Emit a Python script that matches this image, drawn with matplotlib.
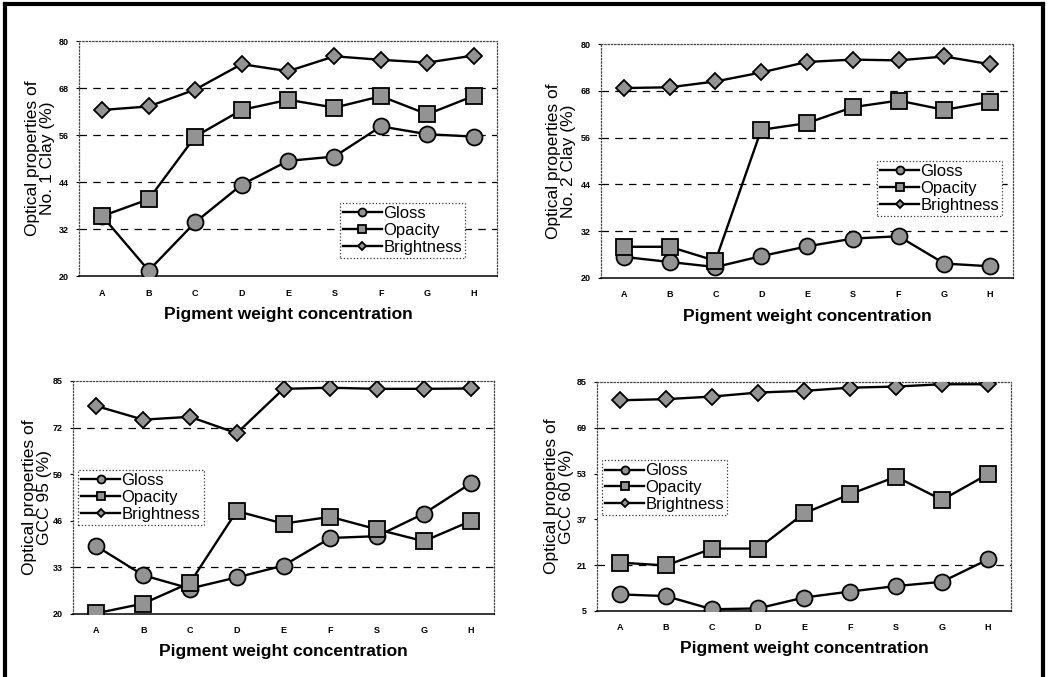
import matplotlib.pyplot as plt

plt.rcParams['font.family'] = ['Liberation Sans', 'DejaVu Sans']

# categories on the x axis (order differs between the top and bottom panels)
cats_top = ['A', 'B', 'C', 'D', 'E', 'S', 'F', 'G', 'H']
cats_bottom = ['A', 'B', 'C', 'D', 'E', 'F', 'S', 'G', 'H']

# No. 1 Clay
clay1_gloss = [35.3, 21.4, 33.7, 43.3, 49.4, 50.5, 58.2, 56.2, 55.6]
clay1_opacity = [35.3, 39.6, 55.6, 62.4, 65.0, 63.0, 65.9, 61.3, 66.0]
clay1_bright = [62.4, 63.3, 67.6, 74.1, 72.3, 76.1, 75.2, 74.5, 76.3]

# No. 2 Clay
clay2_gloss = [25.4, 24.1, 22.8, 25.6, 28.1, 30.1, 30.7, 23.7, 23.0]
clay2_opacity = [28.0, 28.0, 24.4, 58.0, 59.7, 63.8, 65.5, 63.1, 65.2]
clay2_bright = [68.7, 68.9, 70.4, 72.7, 75.4, 76.0, 75.8, 76.8, 74.8]

# GCC 95
gcc95_gloss = [38.9, 30.8, 27.1, 30.2, 33.5, 41.2, 41.7, 48.0, 56.4]
gcc95_opacity = [20.2, 22.9, 28.7, 48.7, 45.2, 47.1, 43.6, 40.3, 45.9]
gcc95_bright = [78.0, 74.2, 75.0, 70.4, 82.8, 83.1, 82.8, 82.8, 82.9]

# GCC 60
gcc60_gloss = [10.8, 10.2, 5.6, 5.9, 9.7, 11.8, 13.7, 15.2, 23.0]
gcc60_opacity = [21.9, 20.9, 26.8, 26.8, 39.1, 45.8, 51.9, 43.8, 52.8]
gcc60_bright = [78.6, 79.0, 79.9, 81.3, 81.9, 83.0, 83.4, 84.2, 84.2]

panels = [
    dict(rect=[0.0754, 0.5923, 0.3989, 0.3471], cats=cats_top,
         gloss=clay1_gloss, opacity=clay1_opacity, bright=clay1_bright,
         yticks=[20, 32, 44, 56, 68, 80], grid=[32, 44, 56, 68],
         ylabel='Optical properties of\nNo. 1 Clay (%)',
         ylab_x=-0.093, xlab_y=-0.132, leg=(0.624, 0.311)),
    dict(rect=[0.5735, 0.5894, 0.3931, 0.3456], cats=cats_top,
         gloss=clay2_gloss, opacity=clay2_opacity, bright=clay2_bright,
         yticks=[20, 32, 44, 56, 68, 80], grid=[32, 44, 56, 68],
         ylabel='Optical properties of\nNo. 2 Clay (%)',
         ylab_x=-0.097, xlab_y=-0.132, leg=(0.670, 0.50)),
    dict(rect=[0.0697, 0.0931, 0.4017, 0.3442], cats=cats_bottom,
         gloss=gcc95_gloss, opacity=gcc95_opacity, bright=gcc95_bright,
         yticks=[20, 33, 46, 59, 72, 85], grid=[33, 72],
         ylabel='Optical properties of\nGCC 95 (%)',
         ylab_x=-0.086, xlab_y=-0.129, leg=(0.012, 0.618)),
    dict(rect=[0.5697, 0.0975, 0.3950, 0.3383], cats=cats_bottom,
         gloss=gcc60_gloss, opacity=gcc60_opacity, bright=gcc60_bright,
         yticks=[5, 21, 37, 53, 69, 85], grid=[21, 69],
         ylabel='Optical properties of\nGCC 60 (%)',
         ylab_x=-0.092, xlab_y=-0.131, leg=(0.012, 0.659)),
]

fill = '#939393'
fig = plt.figure(figsize=(10.48, 6.77), dpi=100)

# outer frame around the whole figure (bottom edge runs off the page)
for xs, ys in [([0.005, 0.005], [-0.01, 0.994]),
               ([0.005, 0.995], [0.994, 0.994]),
               ([0.995, 0.995], [-0.01, 0.994])]:
    fig.add_artist(plt.Line2D(xs, ys, color='black', lw=3,
                              transform=fig.transFigure))

for p in panels:
    ax = fig.add_axes(p['rect'])
    x = range(len(p['cats']))
    for yv in p['grid']:
        ax.axhline(yv, color='black', lw=0.9, ls=(0, (6, 5)), zorder=1)

    ax.plot(x, p['gloss'], '-o', color='black', lw=1.7, ms=11.5,
            mfc=fill, mec='black', mew=1.3, label='Gloss', zorder=3)
    ax.plot(x, p['opacity'], '-s', color='black', lw=1.7, ms=12,
            mfc=fill, mec='black', mew=1.3, label='Opacity', zorder=3)
    ax.plot(x, p['bright'], '-D', color='black', lw=1.7, ms=8.5,
            mfc=fill, mec='black', mew=1.3, label='Brightness', zorder=3)

    ax.set_xlim(-0.5, 8.5)
    ax.set_ylim(p['yticks'][0], p['yticks'][-1])
    ax.set_yticks(p['yticks'])
    ax.set_xticks(list(x))
    ax.set_xticklabels(p['cats'])
    ax.tick_params(axis='x', length=0, pad=9, labelsize=6.5)
    ax.tick_params(axis='y', length=2.5, width=0.8, pad=5, labelsize=6.5)
    for lbl in ax.get_xticklabels() + ax.get_yticklabels():
        lbl.set_fontweight('bold')

    for side in ['top', 'left', 'right']:
        ax.spines[side].set_linestyle(':')
        ax.spines[side].set_linewidth(0.9)
        ax.spines[side].set_color('#444444')
    ax.spines['bottom'].set_linewidth(1.1)

    ax.set_xlabel('Pigment weight concentration', fontsize=12.5,
                  fontweight='bold')
    ax.xaxis.set_label_coords(0.5, p['xlab_y'])
    ax.set_ylabel(p['ylabel'], fontsize=12.5, va='center', linespacing=1.0)
    ax.yaxis.set_label_coords(p['ylab_x'], 0.5)

    leg = ax.legend(loc='upper left', bbox_to_anchor=p['leg'],
                    borderaxespad=0, fontsize=12, markerscale=0.5,
                    handlelength=2.3, handletextpad=0.1, labelspacing=0.1,
                    borderpad=0.2, fancybox=False, framealpha=1)
    leg.get_frame().set_linestyle(':')
    leg.get_frame().set_edgecolor('#333333')
    leg.get_frame().set_linewidth(0.9)

fig.savefig('out.png', dpi=100)
